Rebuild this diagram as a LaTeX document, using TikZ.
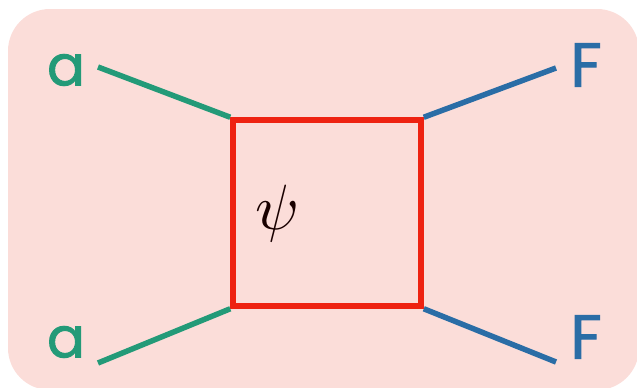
\documentclass[tikz,border=0pt]{standalone}
\usepackage{graphicx}
\usepackage{fontspec}
\setmainfont{Poppins}
\newfontfamily\lblfont{Poppins}[FakeBold=1.6]
\definecolor{bgpink}{HTML}{FBDDD9}
\definecolor{lgreen}{HTML}{239A78}
\definecolor{lblue}{HTML}{2A6DA6}
\definecolor{boxred}{HTML}{EE2211}
\begin{document}
\begin{tikzpicture}[x=1pt,y=-1pt,
  leg/.style={line width=5.5pt},
  lbla/.style={inner sep=0pt,text=lgreen,font=\lblfont\fontsize{56}{56}\selectfont},
  lblf/.style={inner sep=0pt,text=lblue,font=\lblfont\fontsize{62}{62}\selectfont},
  sq/.style={draw=boxred,line width=5.5pt,minimum width=188pt,minimum height=186pt,inner sep=0pt}]
\useasboundingbox (0,0) rectangle (637,388);
\fill[bgpink,rounded corners=42pt] (8,9) rectangle (639,390);
\node[sq] (box) at (327,213) {};
\node[inner sep=0pt,text=black!90!red] (psi) at (277,213) {\scalebox{6.4}{$\psi$}};
\coordinate (tl) at (98,67);
\coordinate (bl) at (98,363);
\coordinate (tr) at (556,68);
\coordinate (br) at (556,362);
\node[lbla] (a1) at (66,70) {a};
\node[lbla] (a2) at (66,342) {a};
\node[lblf] (f1) at (586,65) {F};
\node[lblf] (f2) at (586,337) {F};
\draw[leg,lgreen] (tl) -- (box.north west);
\draw[leg,lgreen] (bl) -- (box.south west);
\draw[leg,lblue] (tr) -- (box.north east);
\draw[leg,lblue] (br) -- (box.south east);
\end{tikzpicture}
\end{document}
